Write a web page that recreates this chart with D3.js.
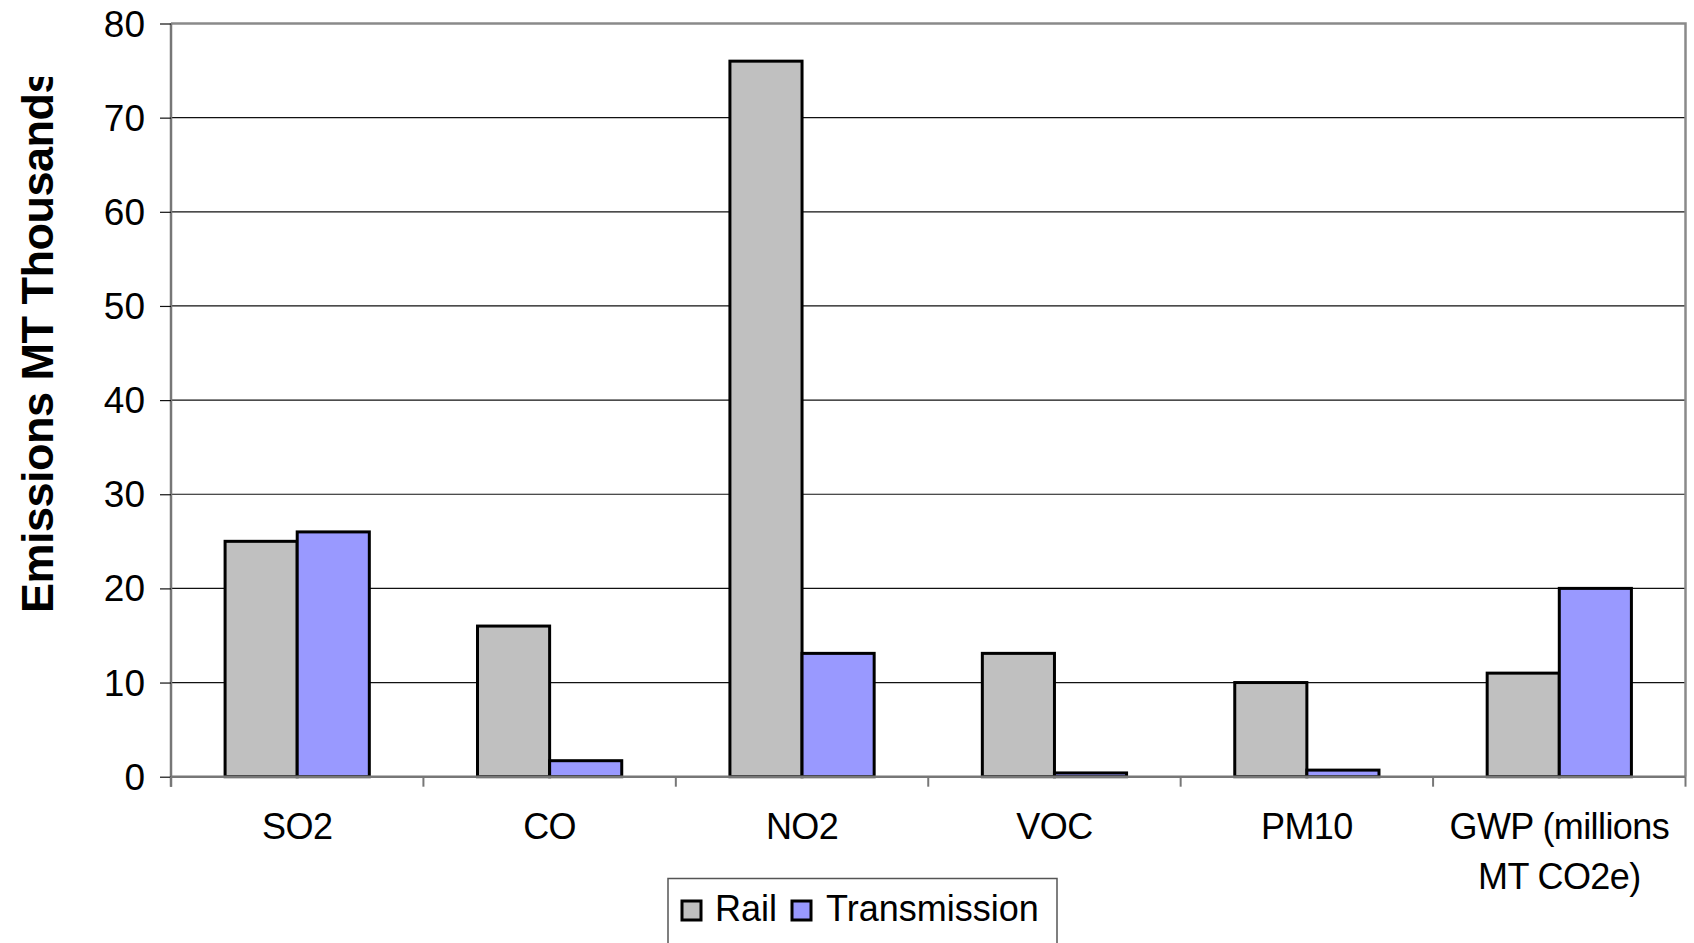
<!DOCTYPE html>
<html>
<head>
<meta charset="utf-8">
<script src="https://cdn.jsdelivr.net/npm/d3@7"></script>
<style>
  html, body { margin: 0; padding: 0; background: #fff; }
  svg { display: block; font-family: "Liberation Sans", Arial, sans-serif; }
</style>
</head>
<body>
<svg id="chart" width="1694" height="943"></svg>
<script>
// Emissions by pollutant, rail vs. transmission
const categories = ["SO2", "CO", "NO2", "VOC", "PM10", "GWP (millions|MT CO2e)"];
const seriesNames = ["Rail", "Transmission"];
const railValues = [25, 16, 76, 13.1, 10, 11];
const transmissionValues = [26, 1.7, 13.1, 0.4, 0.7, 20];
const yTicks = [0, 10, 20, 30, 40, 50, 60, 70, 80];
const seriesColors = ["#C0C0C0", "#9999FF"];
const yTitle = "Emissions MT Thousands";

const rows = categories.map((c, i) => ({
  category: c,
  values: [railValues[i], transmissionValues[i]]
}));

const svg = d3.select("#chart");
const W = 1694, H = 943;
const plot = { left: 171, right: 1685.5, top: 23.5, bottom: 776.7 };

const x0 = d3.scaleBand()
  .domain(categories)
  .range([plot.left, plot.right])
  .paddingInner(0).paddingOuter(0);

const x1 = d3.scaleBand()
  .domain(seriesNames)
  .range([0, x0.bandwidth()])
  .paddingInner(0).paddingOuter(0.75);

const y = d3.scaleLinear()
  .domain([0, 80])
  .range([plot.bottom, plot.top]);

const color = d3.scaleOrdinal().domain(seriesNames).range(seriesColors);

// Horizontal gridlines
svg.append("g")
  .selectAll("line")
  .data(yTicks.filter(t => t > 0 && t < 80))
  .join("line")
  .attr("x1", plot.left).attr("x2", plot.right)
  .attr("y1", d => y(d)).attr("y2", d => y(d))
  .attr("stroke", "#111").attr("stroke-width", 1.2);

// Plot frame: top and right edges
svg.append("path")
  .attr("d", `M${plot.left},${plot.top}H${plot.right}V${plot.bottom}`)
  .attr("fill", "none").attr("stroke", "#8a8a8a").attr("stroke-width", 2.5);

// Bars
const groups = svg.append("g")
  .selectAll("g")
  .data(rows)
  .join("g")
  .attr("transform", d => `translate(${x0(d.category)},0)`);

groups.selectAll("rect")
  .data(d => d.values.map((v, i) => ({ key: seriesNames[i], value: v })))
  .join("rect")
  .attr("x", d => x1(d.key))
  .attr("width", x1.bandwidth())
  .attr("y", d => y(d.value))
  .attr("height", d => y(0) - y(d.value))
  .attr("fill", d => color(d.key))
  .attr("stroke", "#000")
  .attr("stroke-width", 3)
  .attr("stroke-linejoin", "miter");

// Y axis
const yAxis = d3.axisLeft(y)
  .tickValues(yTicks)
  .tickSize(11)
  .tickPadding(15)
  .tickFormat(d3.format("d"));

const yg = svg.append("g")
  .attr("transform", `translate(${plot.left},0)`)
  .call(yAxis);
yg.select(".domain").attr("stroke", "#777").attr("stroke-width", 2.5)
  .attr("d", `M0,${plot.top}V${plot.bottom + 10}`);
yg.selectAll(".tick line").attr("stroke", "#111").attr("stroke-width", 1.2);
yg.selectAll(".tick text")
  .attr("font-size", 37).attr("fill", "#000")
  .attr("font-family", "Liberation Sans, Arial, sans-serif")
  .attr("dy", "0.34em");

// X axis with ticks at category boundaries
const boundaries = categories.map(c => x0(c)).concat([plot.right]);
svg.append("line")
  .attr("x1", plot.left).attr("x2", plot.right)
  .attr("y1", plot.bottom).attr("y2", plot.bottom)
  .attr("stroke", "#777").attr("stroke-width", 2.5);
svg.append("g")
  .selectAll("line")
  .data(boundaries)
  .join("line")
  .attr("x1", d => d).attr("x2", d => d)
  .attr("y1", plot.bottom).attr("y2", plot.bottom + 10)
  .attr("stroke", "#777").attr("stroke-width", 2);

// Category labels (a "|" marks a line break)
const xLabels = svg.append("g")
  .selectAll("text")
  .data(categories)
  .join("text")
  .attr("x", d => x0(d) + x0.bandwidth() / 2)
  .attr("y", plot.bottom + 62)
  .attr("text-anchor", "middle")
  .attr("font-size", 36)
  .attr("letter-spacing", "-0.6px")
  .attr("fill", "#000");
xLabels.selectAll("tspan")
  .data(d => d.split("|"))
  .join("tspan")
  .attr("x", function () { return d3.select(this.parentNode).attr("x"); })
  .attr("dy", (d, i) => i === 0 ? 0 : 50)
  .text(d => d);

// Y axis title (clipped at the top)
svg.append("defs").append("clipPath").attr("id", "titleClip")
  .append("rect").attr("x", 0).attr("y", 77).attr("width", 160).attr("height", H - 77);
svg.append("g").attr("clip-path", "url(#titleClip)")
  .append("text")
  .attr("transform", "translate(53,613) rotate(-90)")
  .attr("text-anchor", "start")
  .attr("font-size", 45)
  .attr("font-weight", "bold")
  .attr("letter-spacing", "-0.5px")
  .attr("fill", "#000")
  .text(yTitle);

// Legend
const legend = svg.append("g");
legend.append("rect")
  .attr("x", 668).attr("y", 878.5)
  .attr("width", 389).attr("height", 100)
  .attr("fill", "#fff").attr("stroke", "#555").attr("stroke-width", 1.5);

const legendItems = [
  { name: seriesNames[0], sx: 682, tx: 715 },
  { name: seriesNames[1], sx: 792, tx: 826 }
];
const li = legend.selectAll("g.item").data(legendItems).join("g").attr("class", "item");
li.append("rect")
  .attr("x", d => d.sx).attr("y", 901)
  .attr("width", 19).attr("height", 19)
  .attr("fill", d => color(d.name))
  .attr("stroke", "#000").attr("stroke-width", 3);
li.append("text")
  .attr("x", d => d.tx).attr("y", 921)
  .attr("font-size", 36)
  .attr("fill", "#000")
  .text(d => d.name);
</script>
</body>
</html>
